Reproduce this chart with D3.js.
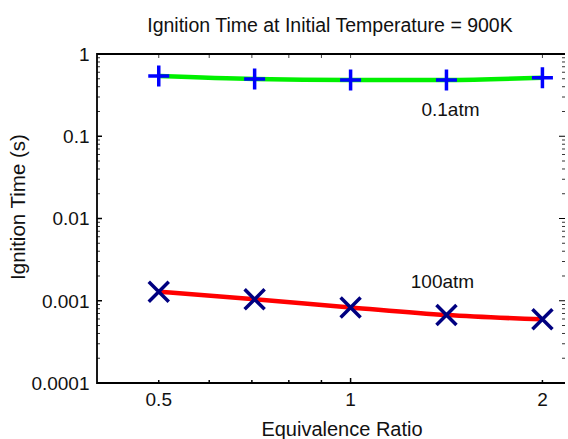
<!DOCTYPE html>
<html>
<head>
<meta charset="utf-8">
<script src="https://cdn.jsdelivr.net/npm/d3@7"></script>
<style>
  body { margin: 0; background: #fff; }
  text { font-family: "Liberation Sans", Arial, sans-serif; fill: #111; }
</style>
</head>
<body>
<svg id="chart" width="568" height="439"></svg>
<script>
const ratios = [0.5, 0.707, 1, 1.414, 2];
const time01atm = [0.54, 0.497, 0.483, 0.483, 0.515];
const time100atm = [0.00129, 0.00104, 0.00083, 0.00067, 0.000594];
const xTicks = [0.5, 1, 2];
const xMinor = [0.6, 0.7, 0.8, 0.9];
const yTicks = [0.0001, 0.001, 0.01, 0.1, 1];
const yTickLabels = ["0.0001", "0.001", "0.01", "0.1", "1"];

const svg = d3.select('#chart');
const margin = { top: 54, right: 3, bottom: 56, left: 97 };
const width = +svg.attr("width") - margin.left - margin.right;
const height = +svg.attr("height") - margin.top - margin.bottom;

const x = d3.scaleLog()
    .domain([0.4, 2.17])
    .range([0, width]);

const y = d3.scaleLog()
    .domain([0.0001, 1])
    .range([height, 0]);

const g = svg.append("g")
    .attr("transform", "translate(" + margin.left + "," + margin.top + ")");

// minor y ticks (inside, left and right)
let yMinor = [];
for (let e = -4; e < 0; e++) {
    for (let k = 2; k <= 9; k++) yMinor.push(k * Math.pow(10, e));
}
g.selectAll(".ym-l").data(yMinor).enter().append("line")
    .attr("x1", 0).attr("x2", 3)
    .attr("y1", d => y(d)).attr("y2", d => y(d))
    .attr("stroke", "#333").attr("stroke-width", 1);
g.selectAll(".ym-r").data(yMinor).enter().append("line")
    .attr("x1", width - 3).attr("x2", width)
    .attr("y1", d => y(d)).attr("y2", d => y(d))
    .attr("stroke", "#333").attr("stroke-width", 1);

// major y ticks
g.selectAll(".yt-l").data(yTicks).enter().append("line")
    .attr("x1", 0).attr("x2", 5)
    .attr("y1", d => y(d)).attr("y2", d => y(d))
    .attr("stroke", "#000").attr("stroke-width", 1.5);
g.selectAll(".yt-r").data(yTicks).enter().append("line")
    .attr("x1", width - 6).attr("x2", width)
    .attr("y1", d => y(d)).attr("y2", d => y(d))
    .attr("stroke", "#000").attr("stroke-width", 1);

// x ticks bottom and top
g.selectAll(".xt-b").data(xTicks.concat(xMinor)).enter().append("line")
    .attr("x1", d => x(d)).attr("x2", d => x(d))
    .attr("y1", height).attr("y2", d => d === 1 ? height - 5 : height - 3)
    .attr("stroke", "#000").attr("stroke-width", 1.5);
g.selectAll(".xt-t").data(xTicks.concat(xMinor)).enter().append("line")
    .attr("x1", d => x(d)).attr("x2", d => x(d))
    .attr("y1", 0).attr("y2", 4)
    .attr("stroke", "#444").attr("stroke-width", 1);

// box: left, bottom, top
g.append("path")
    .attr("d", "M" + width + ",0H0V" + height + "H" + width)
    .attr("fill", "none")
    .attr("stroke", "#000")
    .attr("stroke-width", 1.8);

// tick labels
g.selectAll(".ylab").data(yTicks).enter().append("text")
    .attr("x", -7.5)
    .attr("y", d => y(d))
    .attr("dy", "0.36em")
    .attr("text-anchor", "end")
    .attr("font-size", 19)
    .text((d, i) => yTickLabels[i]);

g.selectAll(".xlab").data(xTicks).enter().append("text")
    .attr("x", d => x(d))
    .attr("y", height + 23)
    .attr("text-anchor", "middle")
    .attr("font-size", 19)
    .text(d => d);

// lines
const line = d3.line()
    .x(d => x(d[0]))
    .y(d => y(d[1]))
    .curve(d3.curveMonotoneX);

g.append("path")
    .datum(ratios.map((r, i) => [r, time01atm[i]]))
    .attr("d", line)
    .attr("fill", "none")
    .attr("stroke", "#00f000")
    .attr("stroke-width", 4.5);

g.append("path")
    .datum(ratios.map((r, i) => [r, time100atm[i]]))
    .attr("d", line)
    .attr("fill", "none")
    .attr("stroke", "#ff0000")
    .attr("stroke-width", 4.5);

// markers
const s = 10.5;
g.selectAll(".plus").data(ratios).enter().append("path")
    .attr("d", (d, i) => {
        const cx = x(d), cy = y(time01atm[i]);
        return "M" + (cx - s) + "," + cy + "H" + (cx + s) + "M" + cx + "," + (cy - s) + "V" + (cy + s);
    })
    .attr("stroke", "#0000ff")
    .attr("stroke-width", 3.5);

const c = 10;
g.selectAll(".cross").data(ratios).enter().append("path")
    .attr("d", (d, i) => {
        const cx = x(d), cy = y(time100atm[i]);
        return "M" + (cx - c) + "," + (cy - c) + "L" + (cx + c) + "," + (cy + c) +
               "M" + (cx - c) + "," + (cy + c) + "L" + (cx + c) + "," + (cy - c);
    })
    .attr("stroke", "#000080")
    .attr("stroke-width", 3.5);

// annotations
g.append("text")
    .attr("x", x(1.414) + 4).attr("y", 62)
    .attr("text-anchor", "middle")
    .attr("font-size", 19)
    .text("0.1atm");

g.append("text")
    .attr("x", x(1.414) - 4).attr("y", 234)
    .attr("text-anchor", "middle")
    .attr("font-size", 19)
    .text("100atm");

// titles
svg.append("text")
    .attr("x", 330).attr("y", 32)
    .attr("text-anchor", "middle")
    .attr("font-size", 19.5)
    .text("Ignition Time at Initial Temperature = 900K");

svg.append("text")
    .attr("x", 342).attr("y", 436)
    .attr("text-anchor", "middle")
    .attr("font-size", 20)
    .text("Equivalence Ratio");

svg.append("text")
    .attr("transform", "translate(25,207) rotate(-90)")
    .attr("text-anchor", "middle")
    .attr("font-size", 20.5)
    .text("Ignition Time (s)");
</script>
</body>
</html>
